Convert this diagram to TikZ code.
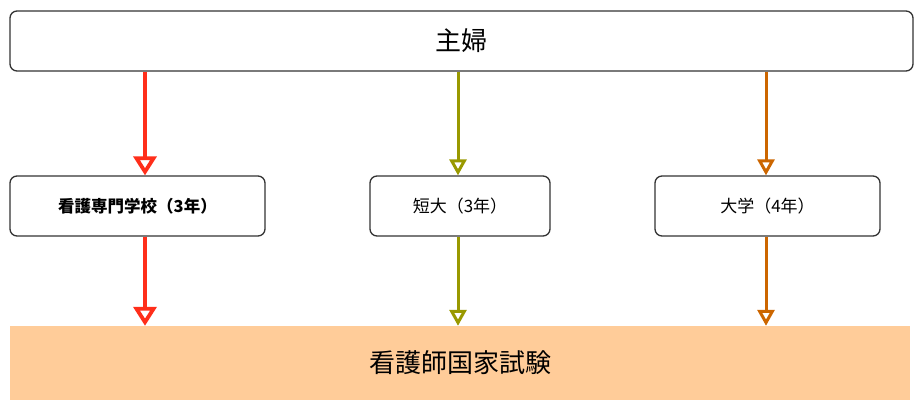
\documentclass[tikz,border=0pt]{standalone}
\usepackage{fontspec}
\setmainfont{Noto Sans CJK JP}
\usepackage{xcolor}
\usepackage{tikz}
\usetikzlibrary{arrows.meta, positioning, calc}
\definecolor{pathred}{HTML}{FF2E1A}
\definecolor{patholive}{HTML}{999900}
\definecolor{pathorange}{HTML}{CC6600}
\definecolor{examfill}{HTML}{FFCC99}
\definecolor{boxgray}{HTML}{333333}

\begin{document}
\begin{tikzpicture}[x=1pt, y=-1pt,
    block/.style={rectangle, draw=boxgray, line width=1.3pt, rounded corners=7pt, minimum height=60pt, inner sep=0pt, text centered, font=\fontsize{17}{19}\selectfont},
    arr/.style={-{Triangle[open, length=16pt, width=17pt]}, line width=3pt},
    bigarr/.style={-{Triangle[open, length=19pt, width=23pt]}, line width=3.8pt}
]
\useasboundingbox (0,0) rectangle (922,414);
% Start and goal
\node[block, minimum width=903pt, font=\fontsize{26}{28}\selectfont] (housewife) at (461.5,41) {主婦};
\node[rectangle, fill=examfill, minimum width=900pt, minimum height=74pt, inner sep=0pt, font=\fontsize{26}{28}\selectfont] (exam) at (460,363) {看護師国家試験};

% Schools
\node[block, minimum width=255pt, font=\fontsize{16.5}{18}\selectfont\bfseries] (school) at (137.5,206) {看護専門学校（3年）};
\node[block, minimum width=180pt] (junior) at (460,206) {短大（3年）};
\node[block, minimum width=225pt] (univ) at (767.5,206) {大学（4年）};

% Routes
\coordinate (redx) at (145,0);
\coordinate (olivex) at (458,0);
\coordinate (orangex) at (766,0);
\draw[bigarr, pathred] (housewife.south -| redx) -- (school.north -| redx);
\draw[bigarr, pathred] (school.south -| redx) -- (exam.north -| redx);
\draw[arr, patholive] (housewife.south -| olivex) -- (junior.north -| olivex);
\draw[arr, patholive] (junior.south -| olivex) -- (exam.north -| olivex);
\draw[arr, pathorange] (housewife.south -| orangex) -- (univ.north -| orangex);
\draw[arr, pathorange] (univ.south -| orangex) -- (exam.north -| orangex);
\end{tikzpicture}
\end{document}
